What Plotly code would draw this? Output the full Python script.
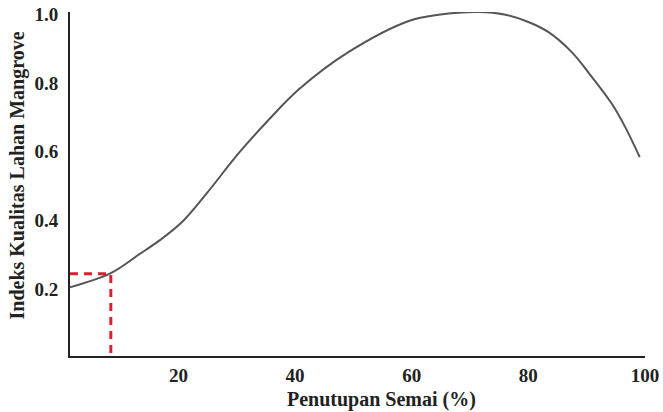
import plotly.graph_objects as go

# Curve: Penutupan Semai (%) vs Indeks Kualitas Lahan Mangrove
cover = [1.4, 8.4, 13.3, 17.0, 20.7, 24.8, 30.4, 35.6, 40.7, 49.2, 59.5, 64.6, 71.5, 76.1, 80.0, 83.4, 87.4, 90.3, 94.2, 96.5, 99.1]
index = [0.206, 0.247, 0.302, 0.345, 0.397, 0.478, 0.597, 0.695, 0.782, 0.890, 0.980, 0.998, 1.006, 0.998, 0.977, 0.948, 0.890, 0.830, 0.742, 0.675, 0.584]

# Reference reading (red dashed guide)
ref_x = 8.4
ref_y = 0.245
x_start = 1.4

x_ticks = [20, 40, 60, 80, 100]
y_ticks = [0.2, 0.4, 0.6, 0.8, 1.0]
y_tick_labels = ["0.2", "0.4", "0.6", "0.8", "1.0"]

font_family = "Liberation Serif"

fig = go.Figure()
fig.add_trace(go.Scatter(
    x=cover, y=index, mode="lines", line=dict(color="#555555", width=2, shape="spline", smoothing=1.0),
    hoverinfo="skip", showlegend=False))
fig.add_trace(go.Scatter(
    x=[x_start, ref_x, ref_x], y=[ref_y, ref_y, 0], mode="lines",
    line=dict(color="#d8202e", width=3, dash="8px,6px"),
    hoverinfo="skip", showlegend=False))

fig.update_layout(
    width=663, height=412,
    margin=dict(l=70, r=18, t=12, b=56),
    paper_bgcolor="white", plot_bgcolor="white",
    font=dict(family=font_family, color="#222222"),
    xaxis=dict(range=[x_start, 100.0], tickvals=x_ticks, showgrid=False, zeroline=False,
               showline=True, linecolor="#222222", linewidth=2, ticks="", automargin=False,
               tickfont=dict(size=19, family=font_family, weight="bold"),
               ticklabelstandoff=1),
    yaxis=dict(range=[0.006, 1.006], tickvals=y_ticks, ticktext=y_tick_labels, showgrid=False,
               zeroline=False, showline=True, linecolor="#222222", linewidth=2, ticks="", automargin=False,
               tickfont=dict(size=19, family=font_family, weight="bold"),
               ticklabelstandoff=6),
    annotations=[
        dict(text="<b>Penutupan Semai (%)</b>", xref="paper", yref="paper", x=0.542, y=-0.126,
             xanchor="center", yanchor="middle", showarrow=False, font=dict(size=20, family=font_family)),
        dict(text="<b>Indeks Kualitas Lahan Mangrove</b>", xref="paper", yref="paper", x=-0.092, y=0.525,
             xanchor="center", yanchor="middle", textangle=-90, showarrow=False, font=dict(size=20, family=font_family)),
    ],
)

fig.write_html("out.html")
